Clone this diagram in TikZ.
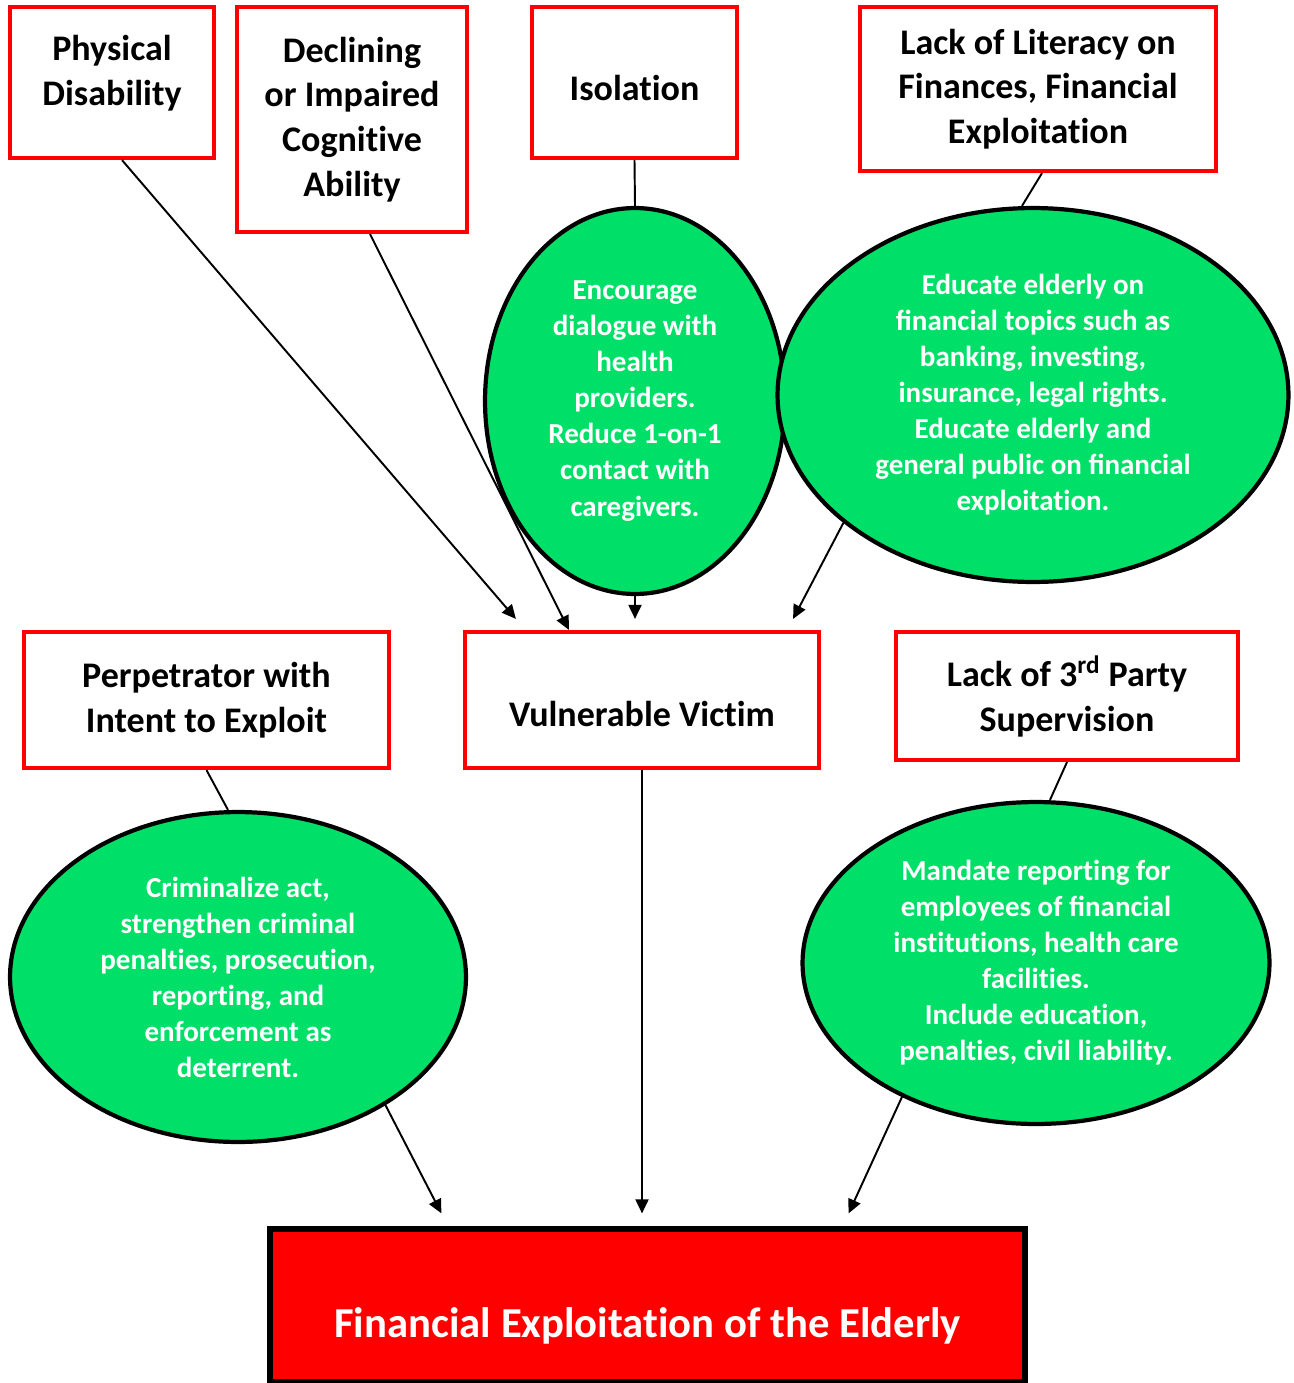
\documentclass[tikz,border=0pt]{standalone}
\usepackage{fontspec}
\setmainfont{Carlito}
\usepackage{tikz}
\usetikzlibrary{shapes.geometric}
\usetikzlibrary{arrows.meta}
% keep t and i as separate letters
\XeTeXinterchartokenstate=1
\newXeTeXintercharclass\tletter
\newXeTeXintercharclass\iletter
\XeTeXcharclass`t=\tletter
\XeTeXcharclass`i=\iletter
\XeTeXinterchartoks\tletter\iletter={\kern0pt}
\definecolor{boxred}{RGB}{255,0,0}
\definecolor{ovalgreen}{RGB}{0,224,104}
\tikzset{
cause/.style={ % Sets the properties for each risk factor
draw=boxred,
line width=2.4pt,
fill=white,
align=center,
inner sep=2pt,
font=\fontsize{20.5}{25.5}\selectfont\bfseries},
remedy/.style={ % Sets the properties for each counter measure
ellipse,
draw=black,
line width=2.4pt,
fill=ovalgreen,
text=white,
align=center,
inner sep=0pt,
font=\fontsize{16.5}{20.5}\selectfont\bfseries},
outcome/.style={
draw=black,
line width=3pt,
fill=boxred,
text=white,
font=\fontsize{24.3}{29}\selectfont\bfseries},
link/.style={ % Plain line from a factor to its remedy
draw,
line width=1.1pt},
arrow/.style={ % Directed line with a filled triangle tip
draw,
line width=1.1pt,
-{Triangle[length=0.28cm,width=0.26cm]}}}

\begin{document}
\begin{tikzpicture}[x=0.02cm, y=-0.02cm]
\useasboundingbox (0,0) rectangle (1294,1383);
% top row of risk factors
\node[cause, minimum width=4.08cm, minimum height=3.02cm] (phys) at (112,82.5) {Physical\\Disability\\[-12pt]\mbox{}};
\node[cause, minimum width=4.6cm, minimum height=4.5cm] (cog) at (352,119.5) {Declining\\or Impaired\\Cognitive\\Ability};
\node[cause, minimum width=4.1cm, minimum height=3.02cm, text height=23pt, text depth=2pt] (iso) at (634.5,82.5) {Isolation};
\node[cause, minimum width=7.12cm, minimum height=3.28cm] (lit) at (1038,89) {Lack of Literacy on\\Finances, Financial\\Exploitation};
% remedies
\node[remedy, minimum width=6cm, minimum height=7.72cm] (health) at (635,401) {Encourage\\dialogue with\\health\\providers.\\Reduce 1-on-1\\contact with\\caregivers.};
\node[remedy, minimum width=10.22cm, minimum height=7.48cm] (educate) at (1033,395) {Educate elderly on\\financial topics such as\\banking, investing,\\insurance, legal rights.\\Educate elderly and\\general public on financial\\exploitation.};
% middle row
\node[cause, minimum width=7.3cm, minimum height=2.72cm] (perp) at (206.5,700) {Perpetrator with\\Intent to Exploit};
\node[cause, minimum width=7.08cm, minimum height=2.72cm, text height=32pt, text depth=2pt] (vic) at (642,700) {Vulnerable Victim};
\node[cause, minimum width=6.84cm, minimum height=2.56cm] (third) at (1067,696) {Lack of 3\textsuperscript{rd} Party\\Supervision};
\node[remedy, minimum width=9.12cm, minimum height=6.6cm] (crim) at (238,977) {Criminalize act,\\strengthen criminal\\penalties, prosecution,\\reporting, and\\enforcement as\\deterrent.};
\node[remedy, minimum width=9.34cm, minimum height=6.44cm] (mandate) at (1036,963) {Mandate reporting for\\employees of financial\\institutions, health care\\facilities.\\Include education,\\penalties, civil liability.};
% result
\node[outcome, minimum width=15.1cm, minimum height=3.06cm, text height=40pt, text depth=4pt] (fin) at (647.5,1305.5) {Financial Exploitation of the Elderly};

\draw[link] (iso.south) -- (health.north);
\draw[link] ([xshift=0.08cm]lit.south) -- ([xshift=-0.22cm]educate.north);
\draw[link] (perp.south) -- ([xshift=-0.2cm]crim.north);
\draw[link] (third.south) -- ([xshift=0.28cm]mandate.north);

\draw[arrow] ([xshift=0.2cm]phys.south) -- ([xshift=1.06cm,yshift=0.22cm]vic.north west);
\draw[arrow] ([xshift=0.36cm]cog.south) -- ([xshift=2.12cm]vic.north west);
\draw[arrow, shorten >=0.22cm] (health.south) -- (health.south |- vic.north);
\draw[arrow] (educate.214) -- ([xshift=-0.56cm,yshift=0.22cm]vic.north east);

\draw[arrow] (crim.-41) -- ([xshift=3.48cm,yshift=0.26cm]fin.north west);
\draw[arrow, shorten >=0.26cm] (vic.south) -- (vic.south |- fin.north);
\draw[arrow] (mandate.225) -- ([xshift=-3.58cm,yshift=0.26cm]fin.north east);
\end{tikzpicture}
\end{document}
